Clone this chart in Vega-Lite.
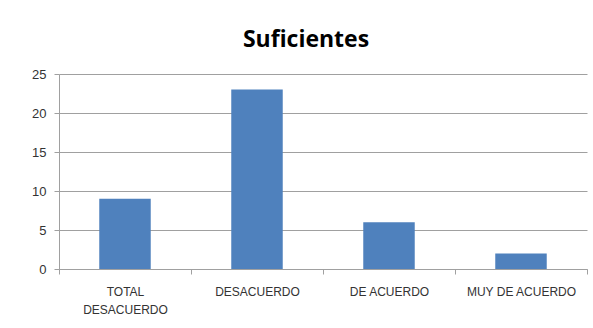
{
  "$schema": "https://vega.github.io/schema/vega-lite/v6.json",
  "width": 528,
  "height": 195,
  "autosize": {"type": "none"},
  "padding": {"left": 59, "top": 74, "right": 6, "bottom": 59},
  "background": "white",
  "title": {
    "text": "Suficientes",
    "font": "Open Sans",
    "fontSize": 23,
    "fontWeight": "bold",
    "color": "#000000",
    "anchor": "middle",
    "offset": 16,
    "dx": -17
  },
  "data": {
    "values": [
      {"categoria": "TOTAL DESACUERDO", "valor": 9},
      {"categoria": "DESACUERDO", "valor": 23},
      {"categoria": "DE ACUERDO", "valor": 6},
      {"categoria": "MUY DE ACUERDO", "valor": 2}
    ]
  },
  "mark": {"type": "bar", "color": "#4f81bd", "width": {"band": 0.39}},
  "encoding": {
    "x": {
      "field": "categoria",
      "type": "nominal",
      "sort": null,
      "scale": {"paddingInner": 0, "paddingOuter": 0},
      "axis": {
        "title": null,
        "labelAngle": 0,
        "labelFont": "Liberation Sans",
        "labelFontSize": 12,
        "labelColor": "#333333",
        "labelPadding": 12,
        "labelLineHeight": 18,
        "labelBaseline": "top",
        "labelExpr": "datum.value == 'TOTAL DESACUERDO' ? ['TOTAL', 'DESACUERDO'] : datum.value",
        "tickBand": "extent",
        "tickSize": 5,
        "tickColor": "#a0a0a0",
        "domainColor": "#a0a0a0",
        "grid": false
      }
    },
    "y": {
      "field": "valor",
      "type": "quantitative",
      "scale": {"domain": [0, 25]},
      "axis": {
        "title": null,
        "values": [0, 5, 10, 15, 20, 25],
        "labelFont": "Liberation Sans",
        "labelFontSize": 13,
        "labelColor": "#333333",
        "labelPadding": 8,
        "tickSize": 5,
        "tickColor": "#a0a0a0",
        "domainColor": "#a0a0a0",
        "gridColor": "#a0a0a0",
        "grid": true
      }
    }
  },
  "config": {"view": {"stroke": null}}
}
